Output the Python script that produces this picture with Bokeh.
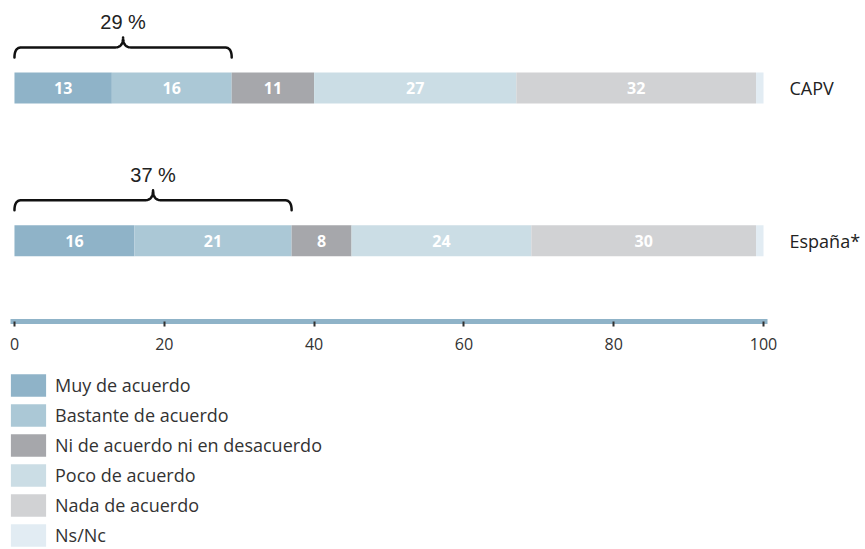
import numpy as np
from bokeh.plotting import figure
from bokeh.layouts import column
from bokeh.models import (ColumnDataSource, Range1d, LinearAxis, FixedTicker,
                          Legend, LegendItem)
from bokeh.core.properties import value
from bokeh.embed import file_html
from bokeh.resources import INLINE

# ---------------- data ----------------
categories = ["CAPV", "España*"]
responses = ["Muy de acuerdo", "Bastante de acuerdo", "Ni de acuerdo ni en desacuerdo",
             "Poco de acuerdo", "Nada de acuerdo", "Ns/Nc"]
muy = [13, 16]
bastante = [16, 21]
ni = [11, 8]
poco = [27, 24]
nada = [32, 30]
nsnc = [1, 1]
x_ticks = [0, 20, 40, 60, 80, 100]

# ---------------- styles ----------------
colors = ["#8fb3c8", "#abc8d6", "#a6a7ab", "#cbdde5", "#d1d2d4", "#e2ecf3"]
FONT = "Open Sans"

W = 863
LEFT = 10
TOP = 8
X0, X1 = -0.53, 100.53
Y0, Y1 = -0.529, 1.52
FRAME_W = 765
FRAME_H = 313
BOTTOM = 40
PXX = FRAME_W / (X1 - X0)
PXY = FRAME_H / (Y1 - Y0)
BAR_H_PX = 31

series = [muy, bastante, ni, poco, nada, nsnc]
ypos = [len(categories) - 1 - i for i in range(len(categories))]

data = {"y": ypos, "cat": categories}
for name, vals in zip(responses, series):
    data[name] = vals
source = ColumnDataSource(data)

p = figure(width=W, height=TOP + FRAME_H + BOTTOM, x_range=Range1d(X0, X1), y_range=Range1d(Y0, Y1),
           output_backend="svg", toolbar_location=None,
           x_axis_location=None, y_axis_location=None,
           min_border_left=LEFT, min_border_right=W - LEFT - FRAME_W,
           min_border_top=TOP, min_border_bottom=BOTTOM)
p.outline_line_color = None
p.xgrid.visible = False
p.ygrid.visible = False

renderers = p.hbar_stack(responses, y="y", height=BAR_H_PX / PXY, color=colors,
                         line_color=None, source=source)

# value labels inside segments
lx, ly, lt = [], [], []
for ci, yv in enumerate(ypos):
    left = 0
    for vals in series:
        v = vals[ci]
        if v >= 5:
            lx.append(left + v / 2)
            ly.append(yv)
            lt.append(str(v))
        left += v
p.text(x=lx, y=ly, text=lt, text_color="white", text_font=value(FONT),
       text_font_style="bold", text_font_size="16px", text_align="center",
       text_baseline="middle")

# braces above the "agree" share
def qbez(a, c, b, n=14):
    t = np.linspace(0, 1, n)
    return (((1 - t) ** 2)[:, None] * np.array(a) + (2 * (1 - t) * t)[:, None] * np.array(c)
            + (t ** 2)[:, None] * np.array(b))

bx, by, tx, ty, tt = [], [], [], [], []
for ci, yv in enumerate(ypos):
    agree = muy[ci] + bastante[ci]
    wpx = agree * PXX
    m = wpx / 2
    e, h, pk, r, rc = 15, 25, 35, 7, 8
    pts = np.vstack([
        qbez((0, e), (0, h), (r, h)),
        qbez((m - rc, h), (m, h), (m, pk)),
        qbez((m, pk), (m, h), (m + rc, h)),
        qbez((wpx - r, h), (wpx, h), (wpx, e)),
    ])
    top = yv + (BAR_H_PX / 2) / PXY
    bx.append(list(pts[:, 0] / PXX))
    by.append(list(top + pts[:, 1] / PXY))
    tx.append(agree / 2)
    ty.append(top + 50 / PXY)
    tt.append(f"{agree} %")
p.multi_line(xs=bx, ys=by, line_color="#111111", line_width=2.5, line_join="round", line_cap="round")
p.text(x=tx, y=ty, text=tt, text_color="#222222", text_font=value("Liberation Sans"),
       text_font_size="20px", text_align="center", text_baseline="middle")

# x axis
xa = LinearAxis(ticker=FixedTicker(ticks=x_ticks))
xa.axis_line_color = "#8fb3c8"
xa.axis_line_width = 5
xa.major_tick_line_color = "#333333"
xa.major_tick_line_width = 2
xa.major_tick_in = 0
xa.major_tick_out = 5
xa.minor_tick_line_color = None
xa.major_label_standoff = 11
xa.major_label_text_font = FONT
xa.major_label_text_font_size = "16px"
xa.major_label_text_color = "#333333"
p.add_layout(xa, "below")

# category labels on the right
ya = LinearAxis(ticker=FixedTicker(ticks=ypos),
                major_label_overrides={yv: c for yv, c in zip(ypos, categories)})
ya.axis_line_color = None
ya.major_tick_line_color = None
ya.minor_tick_line_color = None
ya.major_label_standoff = 16
ya.major_label_text_font = FONT
ya.major_label_text_font_size = "18px"
ya.major_label_text_color = "#222222"
ya.major_label_orientation = "horizontal"
p.add_layout(ya, "right")

# legend in its own figure below
LEG_TOP = 10
LEG_H = 178
GW, GH = 44, 28   # legend swatches are drawn at 80% of the glyph box
p2 = figure(width=W, height=LEG_TOP + LEG_H, output_backend="svg", toolbar_location=None,
            x_axis_location=None, y_axis_location=None,
            min_border_left=LEFT, min_border_right=0, min_border_top=LEG_TOP, min_border_bottom=0,
            x_range=Range1d(0, 1), y_range=Range1d(0, 1))
p2.outline_line_color = None
p2.xgrid.visible = False
p2.ygrid.visible = False
leg_rs = [p2.hbar(y=[np.nan], right=[np.nan], height=1, color=c, line_color=None) for c in colors]
legend = Legend(items=[LegendItem(label=lab, renderers=[r]) for lab, r in zip(responses, leg_rs)],
                location=(-4, 0), orientation="vertical",
                glyph_width=GW, glyph_height=GH, label_standoff=5, spacing=2,
                padding=0, margin=0, border_line_alpha=0, background_fill_alpha=0,
                label_text_font=FONT, label_text_font_size="18px", label_text_color="#333333")
p2.add_layout(legend)

layout = column(p, p2, spacing=0)
open("out.html", "w").write(file_html(layout, INLINE))
